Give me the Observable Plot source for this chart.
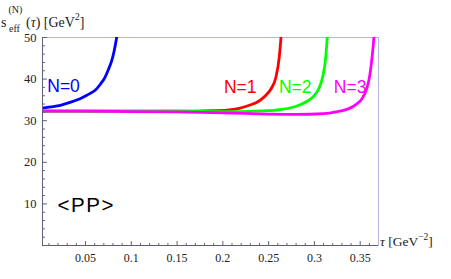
<!DOCTYPE html>
<html><head><meta charset="utf-8">
<script src="https://cdn.jsdelivr.net/npm/d3@7"></script>
<script src="https://cdn.jsdelivr.net/npm/@observablehq/plot@0.6"></script>
<style>html,body{margin:0;padding:0;background:#fff;}</style>
</head><body><div id="chart"></div>
<script>
const xDomain = [0.003, 0.37];
const yDomain = [0, 50];
const xMajor = [0.05, 0.1, 0.15, 0.2, 0.25, 0.3, 0.35];
const xMinor = [0.01,0.02,0.03,0.04,0.06,0.07,0.08,0.09,0.11,0.12,0.13,0.14,0.16,0.17,0.18,0.19,0.21,0.22,0.23,0.24,0.26,0.27,0.28,0.29,0.31,0.32,0.33,0.34,0.36];
const yMajor = [10, 20, 30, 40, 50];
const yMinor = [2,4,6,8,12,14,16,18,22,24,26,28,32,34,36,38,42,44,46,48];

const tau0 = [0.003, 0.012, 0.0225, 0.033, 0.044, 0.052, 0.0605, 0.066, 0.0714, 0.075, 0.0787, 0.0815, 0.084];
const s0   = [33.0, 33.3, 33.7, 34.4, 35.3, 36.2, 37.3, 38.7, 40.5, 42.3, 44.5, 47.0, 50.0];
const tau1 = [0.003, 0.05, 0.1, 0.15, 0.17, 0.19, 0.207, 0.22, 0.229, 0.24, 0.247, 0.253, 0.258, 0.2616, 0.2635];
const s1   = [32.3, 32.3, 32.3, 32.3, 32.3, 32.4, 32.6, 33.1, 33.7, 34.8, 36.1, 37.8, 40.5, 45.3, 50.0];
const tau2 = [0.003, 0.05, 0.1, 0.15, 0.2, 0.22, 0.25, 0.265, 0.283, 0.293, 0.3, 0.305, 0.309, 0.3124, 0.314];
const s2   = [32.3, 32.3, 32.3, 32.3, 32.2, 32.2, 32.4, 32.7, 33.7, 34.8, 36.1, 37.8, 40.5, 45.3, 50.0];
const tau3 = [0.003, 0.05, 0.1, 0.15, 0.2, 0.25, 0.28, 0.31, 0.325, 0.3377, 0.346, 0.352, 0.3565, 0.3595, 0.363, 0.365];
const s3   = [32.3, 32.3, 32.2, 32.1, 31.9, 31.6, 31.5, 31.7, 32.2, 32.9, 34.0, 35.3, 37.3, 39.7, 45.3, 50.0];

const seriesNames = ["N=0", "N=1", "N=2", "N=3"];
const seriesColors = ["#0000ff", "#ff0000", "#00ff00", "#ff00ff"];
const labelX = [0.026, 0.219, 0.279, 0.339];
const labelY = [38.2, 38.1, 38.1, 38.1];
const noteText = ["<PP>"];
const noteX = [0.0508];
const noteY = [9.6];

const series = [[tau0, s0], [tau1, s1], [tau2, s2], [tau3, s3]];
const rows = series.flatMap(([t, s], i) => t.map((tv, j) => ({tau: tv, s: s[j], N: seriesNames[i]})));
const labels = seriesNames.map((n, i) => ({N: n, x: labelX[i], y: labelY[i]}));
const notes = noteText.map((t, i) => ({t, x: noteX[i], y: noteY[i]}));

const tickShape = {draw(context, l) { context.moveTo(0, 0); context.lineTo(0, -l); }};
const axisColor = "#5f5f7a";
const frameColor = "#b4b4e0";
const serif = "Liberation Serif, Times New Roman, serif";
const sans = "Liberation Sans, Arial, sans-serif";

const plot = Plot.plot({
  width: 451, height: 279,
  marginLeft: 42, marginRight: 73, marginTop: 37, marginBottom: 34,
  x: {domain: xDomain, axis: null},
  y: {domain: yDomain, axis: null},
  color: {domain: seriesNames, range: seriesColors},
  style: {background: "#fff"},
  marks: [
    Plot.frame({stroke: frameColor, strokeWidth: 1}),
    Plot.line(rows, {x: "tau", y: "s", z: "N", stroke: "N", strokeWidth: 2.8, curve: "monotone-x", clip: true}),
    Plot.ruleX([xDomain[0]], {stroke: axisColor, strokeWidth: 1}),
    Plot.ruleY([yDomain[0]], {stroke: axisColor, strokeWidth: 1}),
    Plot.vector(xMajor, {x: d => d, frameAnchor: "bottom", length: 4, anchor: "start", shape: tickShape, stroke: axisColor, strokeWidth: 1}),
    Plot.vector(xMinor, {x: d => d, frameAnchor: "bottom", length: 2, anchor: "start", shape: tickShape, stroke: axisColor, strokeWidth: 1}),
    Plot.vector(yMajor, {y: d => d, frameAnchor: "left", length: 4, rotate: 90, anchor: "start", shape: tickShape, stroke: axisColor, strokeWidth: 1}),
    Plot.vector(yMinor, {y: d => d, frameAnchor: "left", length: 2, rotate: 90, anchor: "start", shape: tickShape, stroke: axisColor, strokeWidth: 1}),
    Plot.text(xMajor, {x: d => d, frameAnchor: "bottom", dy: 16, text: d => String(d), fontFamily: serif, fontSize: 12, fill: "#222"}),
    Plot.text(yMajor, {y: d => d, frameAnchor: "left", dx: -6, textAnchor: "end", text: d => String(d), fontFamily: serif, fontSize: 12.5, fill: "#222"}),
    Plot.text(labels, {x: "x", y: "y", text: "N", fill: "N", fontFamily: sans, fontSize: 17.5}),
    Plot.text(notes, {x: "x", y: "y", text: "t", fill: "#000", fontFamily: sans, fontSize: 20.5})
  ]
});
document.getElementById("chart").appendChild(plot);

const svg = d3.select(plot);
svg.selectAll("g[font-family]").each(function() {
  const f = this.getAttribute("font-family");
  d3.select(this).selectAll("text").style("font-family", f);
});
svg.selectAll("text").filter(function() { return this.textContent === noteText[0]; }).style("letter-spacing", "1.5px");

const g = svg.append("g").attr("fill", "#222").attr("text-anchor", "start")
  .style("font-family", serif);
g.append("text").attr("x", 1).attr("y", 27).attr("font-size", 14).text("s");
g.append("text").attr("x", 8.5).attr("y", 12.5).attr("font-size", 10).text("(N)");
g.append("text").attr("x", 9).attr("y", 31.5).attr("font-size", 10).text("eff");
const yt = g.append("text").attr("x", 26).attr("y", 27).attr("font-size", 14);
yt.append("tspan").text("(");
yt.append("tspan").attr("font-style", "italic").text("τ");
yt.append("tspan").text(") [GeV");
yt.append("tspan").attr("dy", -7).attr("font-size", 9.5).text("2");
yt.append("tspan").attr("dy", 7).text("]");
const xt = g.append("text").attr("x", 380).attr("y", 246).attr("font-size", 13.5);
xt.append("tspan").attr("font-style", "italic").text("τ");
xt.append("tspan").text(" [GeV");
xt.append("tspan").attr("dy", -6).attr("font-size", 9.5).text("−2");
xt.append("tspan").attr("dy", 6).text("]");
g.selectAll("text").style("font-family", serif);
</script>
</body></html>
